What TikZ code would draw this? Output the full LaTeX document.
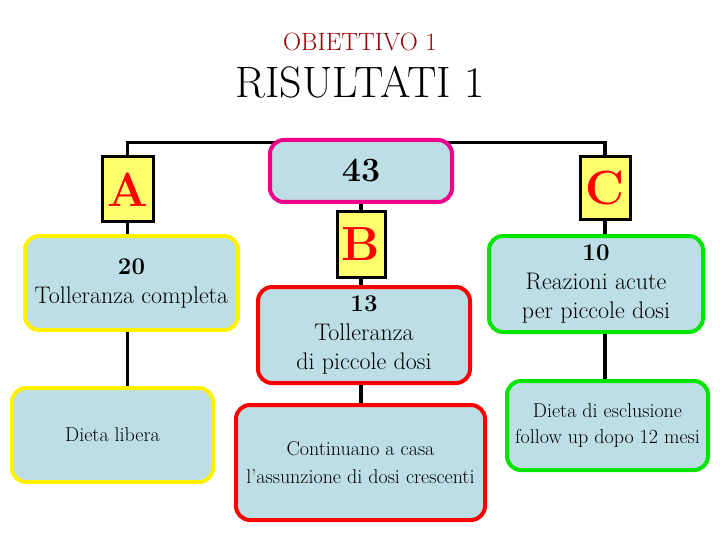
\documentclass[tikz,border=0pt]{standalone}
\usetikzlibrary{positioning}
\definecolor{boxfill}{RGB}{188,222,228}
\definecolor{lettfill}{RGB}{255,255,110}
\definecolor{titred}{RGB}{150,0,0}
\begin{document}
\begin{tikzpicture}[x=1pt,y=-1pt,
    letter/.style={draw=black, line width=3pt, fill=lettfill, text=red, inner sep=0pt,
                   font=\fontsize{48}{48}\selectfont\bfseries},
    info/.style={draw, line width=4pt, fill=boxfill, rounded corners=14pt, inner sep=0pt,
                 align=center, font=\fontsize{24}{29}\selectfont},
    link/.style={line width=3.5pt}]
        \useasboundingbox (0,0) rectangle (720,540);
        \node[text=titred, font=\fontsize{25}{25}\selectfont] (obj) at (360,42) {OBIETTIVO 1};
        \node[font=\fontsize{44}{44}\selectfont] (ris) at (360,82) {RISULTATI 1};

        % letters
        \node[letter, minimum width=51, minimum height=65] (A) at (127.5,189.5) {A};
        \node[letter, minimum width=48, minimum height=65] (B) at (361,244.5) {B};
        \node[letter, minimum width=50, minimum height=63] (C) at (605,188.5) {C};

        % links (behind the boxes)
        \draw[link] (A.north) -- ++(0,-13) -| (C.north);

        \node[info, draw=magenta, minimum width=182, minimum height=62,
              font=\fontsize{34}{34}\selectfont\bfseries] (tot) at (361,171) {43};
        \node[info, draw=yellow, minimum width=213, minimum height=94] (tolc) at (131.5,283)
             {\textbf{20}\\Tolleranza completa};
        \node[info, draw=red, minimum width=212, minimum height=96] (tolp) at (364,335)
             {\textbf{13}\\Tolleranza\\di piccole dosi};
        \node[info, draw=green!90!black, minimum width=214, minimum height=96] (reaz) at (596,284)
             {\textbf{10}\\Reazioni acute\\per piccole dosi};
        \node[info, draw=yellow, minimum width=201, minimum height=94,
              font=\fontsize{20}{25}\selectfont] (lib) at (112.5,435) {Dieta libera};
        \node[info, draw=red, minimum width=249, minimum height=115,
              font=\fontsize{20}{28}\selectfont] (casa) at (360.5,462.5)
             {Continuano a casa\\l’assunzione di dosi crescenti};
        \node[info, draw=green!90!black, minimum width=201, minimum height=89,
              font=\fontsize{20}{26}\selectfont] (escl) at (607.5,425.5)
             {Dieta di esclusione\\follow up dopo 12 mesi};

        \draw[link] (A.south) -- (A.south |- tolc.north);
        \draw[link] (A.south |- tolc.south) -- (A.south |- lib.north);
        \draw[link] (tot.south) -- (B.north);
        \draw[link] (B.south) -- (B.south |- tolp.north);
        \draw[link] (B.south |- tolp.south) -- (B.south |- casa.north);
        \draw[link] (C.south) -- (C.south |- reaz.north);
        \draw[link] (C.south |- reaz.south) -- (C.south |- escl.north);
\end{tikzpicture}
\end{document}
